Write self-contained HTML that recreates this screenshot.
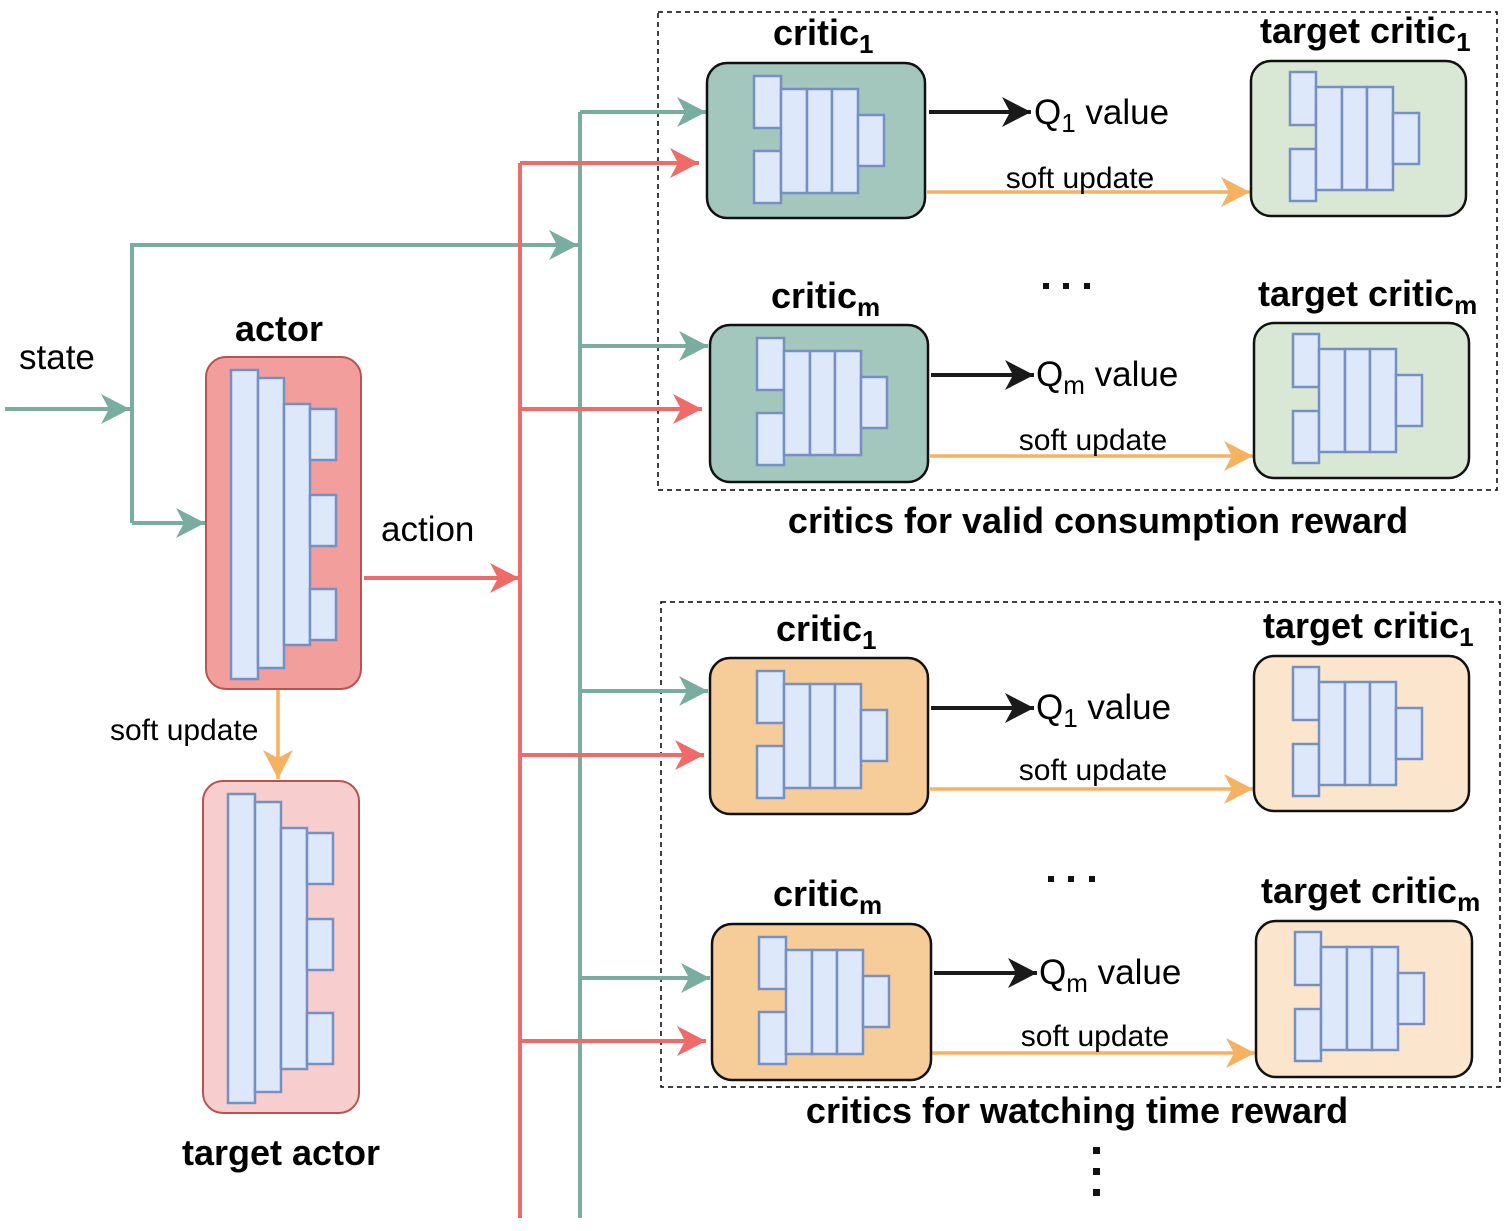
<!DOCTYPE html>
<html><head><meta charset="utf-8"><style>
html,body{margin:0;padding:0;background:#fff}
svg text{font-family:"Liberation Sans",Arial,sans-serif}
.b{font-weight:bold;font-size:36px}
.n{font-size:35px}
.s{font-size:30px}
</style></head><body>
<svg width="1508" height="1226" viewBox="0 0 1508 1226" xmlns="http://www.w3.org/2000/svg">
<defs>
<marker id="ag" markerUnits="userSpaceOnUse" markerWidth="40" markerHeight="40" refX="30" refY="16" orient="auto"><path d="M30,16 L1,1 L9,16 L1,31 Z" fill="#79ad9f"/></marker>
<marker id="ar" markerUnits="userSpaceOnUse" markerWidth="40" markerHeight="40" refX="30" refY="16" orient="auto"><path d="M30,16 L1,1 L9,16 L1,31 Z" fill="#ee6b69"/></marker>
<marker id="ao" markerUnits="userSpaceOnUse" markerWidth="40" markerHeight="40" refX="30" refY="16" orient="auto"><path d="M30,16 L1,1 L9,16 L1,31 Z" fill="#f4b262"/></marker>
<marker id="ak" markerUnits="userSpaceOnUse" markerWidth="40" markerHeight="40" refX="30" refY="16" orient="auto"><path d="M30,16 L1,1 L9,16 L1,31 Z" fill="#1a1a1a"/></marker>
<g id="net" fill="#dde8fa" stroke="#7690c4" stroke-width="2.5">
<rect x="47" y="13" width="27" height="52"/><rect x="47" y="88" width="27" height="52"/>
<rect x="74" y="26" width="26" height="104"/><rect x="100" y="26" width="25" height="104"/><rect x="125" y="26" width="26" height="104"/>
<rect x="151" y="52" width="26" height="51"/>
</g>
<g id="tnet" fill="#dde8fa" stroke="#7690c4" stroke-width="2.5">
<rect x="39" y="11" width="26" height="53"/><rect x="39" y="88" width="26" height="52"/>
<rect x="65" y="26" width="26" height="103"/><rect x="91" y="26" width="25" height="103"/><rect x="116" y="26" width="26" height="103"/>
<rect x="142" y="52" width="26" height="51"/>
</g>
<g id="anet" fill="#dde8fa" stroke="#7690c4" stroke-width="2.5">
<rect x="25" y="13" width="27" height="309"/><rect x="52" y="21" width="26" height="290"/><rect x="78" y="47" width="26" height="241"/>
<rect x="104" y="52" width="26" height="51"/><rect x="104" y="138" width="26" height="51"/><rect x="104" y="232" width="26" height="51"/>
</g>
</defs>

<rect x="658" y="12" width="839" height="478" fill="none" stroke="#000" stroke-width="1.5" stroke-dasharray="5,4"/>
<rect x="661" y="602" width="839" height="485" fill="none" stroke="#000" stroke-width="1.5" stroke-dasharray="5,4"/>

<g stroke="#79ad9f" stroke-width="4" fill="none">
<line x1="5" y1="409" x2="130" y2="409" marker-end="url(#ag)"/>
<polyline points="132,523 132,245 578,245" marker-end="url(#ag)"/>
<line x1="132" y1="523" x2="205" y2="523" marker-end="url(#ag)"/>
<line x1="580" y1="112" x2="580" y2="1218"/>
<line x1="580" y1="112" x2="706" y2="112" marker-end="url(#ag)"/>
<line x1="580" y1="346" x2="708" y2="346" marker-end="url(#ag)"/>
<line x1="580" y1="691" x2="708" y2="691" marker-end="url(#ag)"/>
<line x1="580" y1="978" x2="710" y2="978" marker-end="url(#ag)"/>
</g>
<g stroke="#ee6b69" stroke-width="4" fill="none">
<line x1="364" y1="578" x2="519" y2="578" marker-end="url(#ar)"/>
<line x1="520" y1="163" x2="520" y2="1218"/>
<line x1="520" y1="163" x2="699" y2="163" marker-end="url(#ar)"/>
<line x1="520" y1="409" x2="702" y2="409" marker-end="url(#ar)"/>
<line x1="520" y1="755" x2="704" y2="755" marker-end="url(#ar)"/>
<line x1="520" y1="1041" x2="706" y2="1041" marker-end="url(#ar)"/>
</g>
<g stroke="#1a1a1a" stroke-width="4">
<line x1="929" y1="112" x2="1031" y2="112" marker-end="url(#ak)"/>
<line x1="931" y1="375" x2="1034" y2="375" marker-end="url(#ak)"/>
<line x1="931" y1="708" x2="1034" y2="708" marker-end="url(#ak)"/>
<line x1="934" y1="973" x2="1037" y2="973" marker-end="url(#ak)"/>
</g>
<g stroke="#f4b262" stroke-width="3.5">
<line x1="927" y1="192" x2="1250" y2="192" marker-end="url(#ao)"/>
<line x1="930" y1="456" x2="1253" y2="456" marker-end="url(#ao)"/>
<line x1="930" y1="789" x2="1253" y2="789" marker-end="url(#ao)"/>
<line x1="932" y1="1053" x2="1255" y2="1053" marker-end="url(#ao)"/>
<line x1="278" y1="690" x2="278" y2="779" marker-end="url(#ao)"/>
</g>

<rect x="206" y="357" width="155" height="332" rx="20" fill="#f29e9c" stroke="#b85450" stroke-width="2"/>
<use href="#anet" x="206" y="357"/>
<rect x="203" y="781" width="156" height="332" rx="20" fill="#f7cdcd" stroke="#b85450" stroke-width="2"/>
<use href="#anet" x="203" y="781"/>

<g stroke="#111" stroke-width="2.5">
<rect x="707" y="63" width="218" height="155" rx="20" fill="#a3c6bd"/>
<rect x="1251" y="61" width="215" height="155" rx="20" fill="#d9e8d4"/>
<rect x="710" y="325" width="218" height="157" rx="20" fill="#a3c6bd"/>
<rect x="1254" y="323" width="215" height="155" rx="20" fill="#d9e8d4"/>
<rect x="710" y="658" width="218" height="156" rx="20" fill="#f6cc99"/>
<rect x="1254" y="656" width="215" height="155" rx="20" fill="#fbe6cd"/>
<rect x="712" y="924" width="219" height="156" rx="20" fill="#f6cc99"/>
<rect x="1256" y="921" width="216" height="156" rx="20" fill="#fbe6cd"/>
</g>
<use href="#net" x="707" y="63"/>
<use href="#tnet" x="1251" y="61"/>
<use href="#net" x="710" y="325"/>
<use href="#tnet" x="1254" y="323"/>
<use href="#net" x="710" y="658"/>
<use href="#tnet" x="1254" y="656"/>
<use href="#net" x="712" y="924"/>
<use href="#tnet" x="1256" y="921"/>

<text x="19" y="369" class="n">state</text>
<text x="279" y="341" class="b" text-anchor="middle">actor</text>
<text x="381" y="541" class="n">action</text>
<text x="110" y="740" class="s">soft update</text>
<text x="281" y="1165" class="b" text-anchor="middle">target actor</text>

<text x="773" y="45" class="b">critic<tspan font-size="26" dy="8">1</tspan></text>
<text x="1260" y="43" class="b">target critic<tspan font-size="26" dy="8">1</tspan></text>
<text x="771" y="308" class="b">critic<tspan font-size="26" dy="8">m</tspan></text>
<text x="1258" y="306" class="b">target critic<tspan font-size="26" dy="8">m</tspan></text>
<text x="776" y="641" class="b">critic<tspan font-size="26" dy="8">1</tspan></text>
<text x="1263" y="638" class="b">target critic<tspan font-size="26" dy="8">1</tspan></text>
<text x="773" y="906" class="b">critic<tspan font-size="26" dy="8">m</tspan></text>
<text x="1261" y="903" class="b">target critic<tspan font-size="26" dy="8">m</tspan></text>

<text x="1034" y="124" class="n">Q<tspan font-size="26" dy="8">1</tspan><tspan dy="-8"> value</tspan></text>
<text x="1036" y="386" class="n">Q<tspan font-size="26" dy="8">m</tspan><tspan dy="-8"> value</tspan></text>
<text x="1036" y="719" class="n">Q<tspan font-size="26" dy="8">1</tspan><tspan dy="-8"> value</tspan></text>
<text x="1039" y="984" class="n">Q<tspan font-size="26" dy="8">m</tspan><tspan dy="-8"> value</tspan></text>

<text x="1080" y="188" class="s" text-anchor="middle">soft update</text>
<text x="1093" y="450" class="s" text-anchor="middle">soft update</text>
<text x="1093" y="780" class="s" text-anchor="middle">soft update</text>
<text x="1095" y="1046" class="s" text-anchor="middle">soft update</text>

<g fill="#111">
<rect x="1043" y="283" width="6" height="6"/><rect x="1063" y="283" width="6" height="6"/><rect x="1084" y="283" width="6" height="6"/>
<rect x="1048" y="876" width="6" height="6"/><rect x="1068" y="876" width="6" height="6"/><rect x="1089" y="876" width="6" height="6"/>
<rect x="1093" y="1147" width="7" height="7"/><rect x="1093" y="1168" width="7" height="7"/><rect x="1093" y="1189" width="7" height="7"/>
</g>

<text x="1098" y="533" class="b" text-anchor="middle">critics for valid consumption reward</text>
<text x="1077" y="1123" class="b" text-anchor="middle">critics for watching time reward</text>
</svg>
</body></html>
